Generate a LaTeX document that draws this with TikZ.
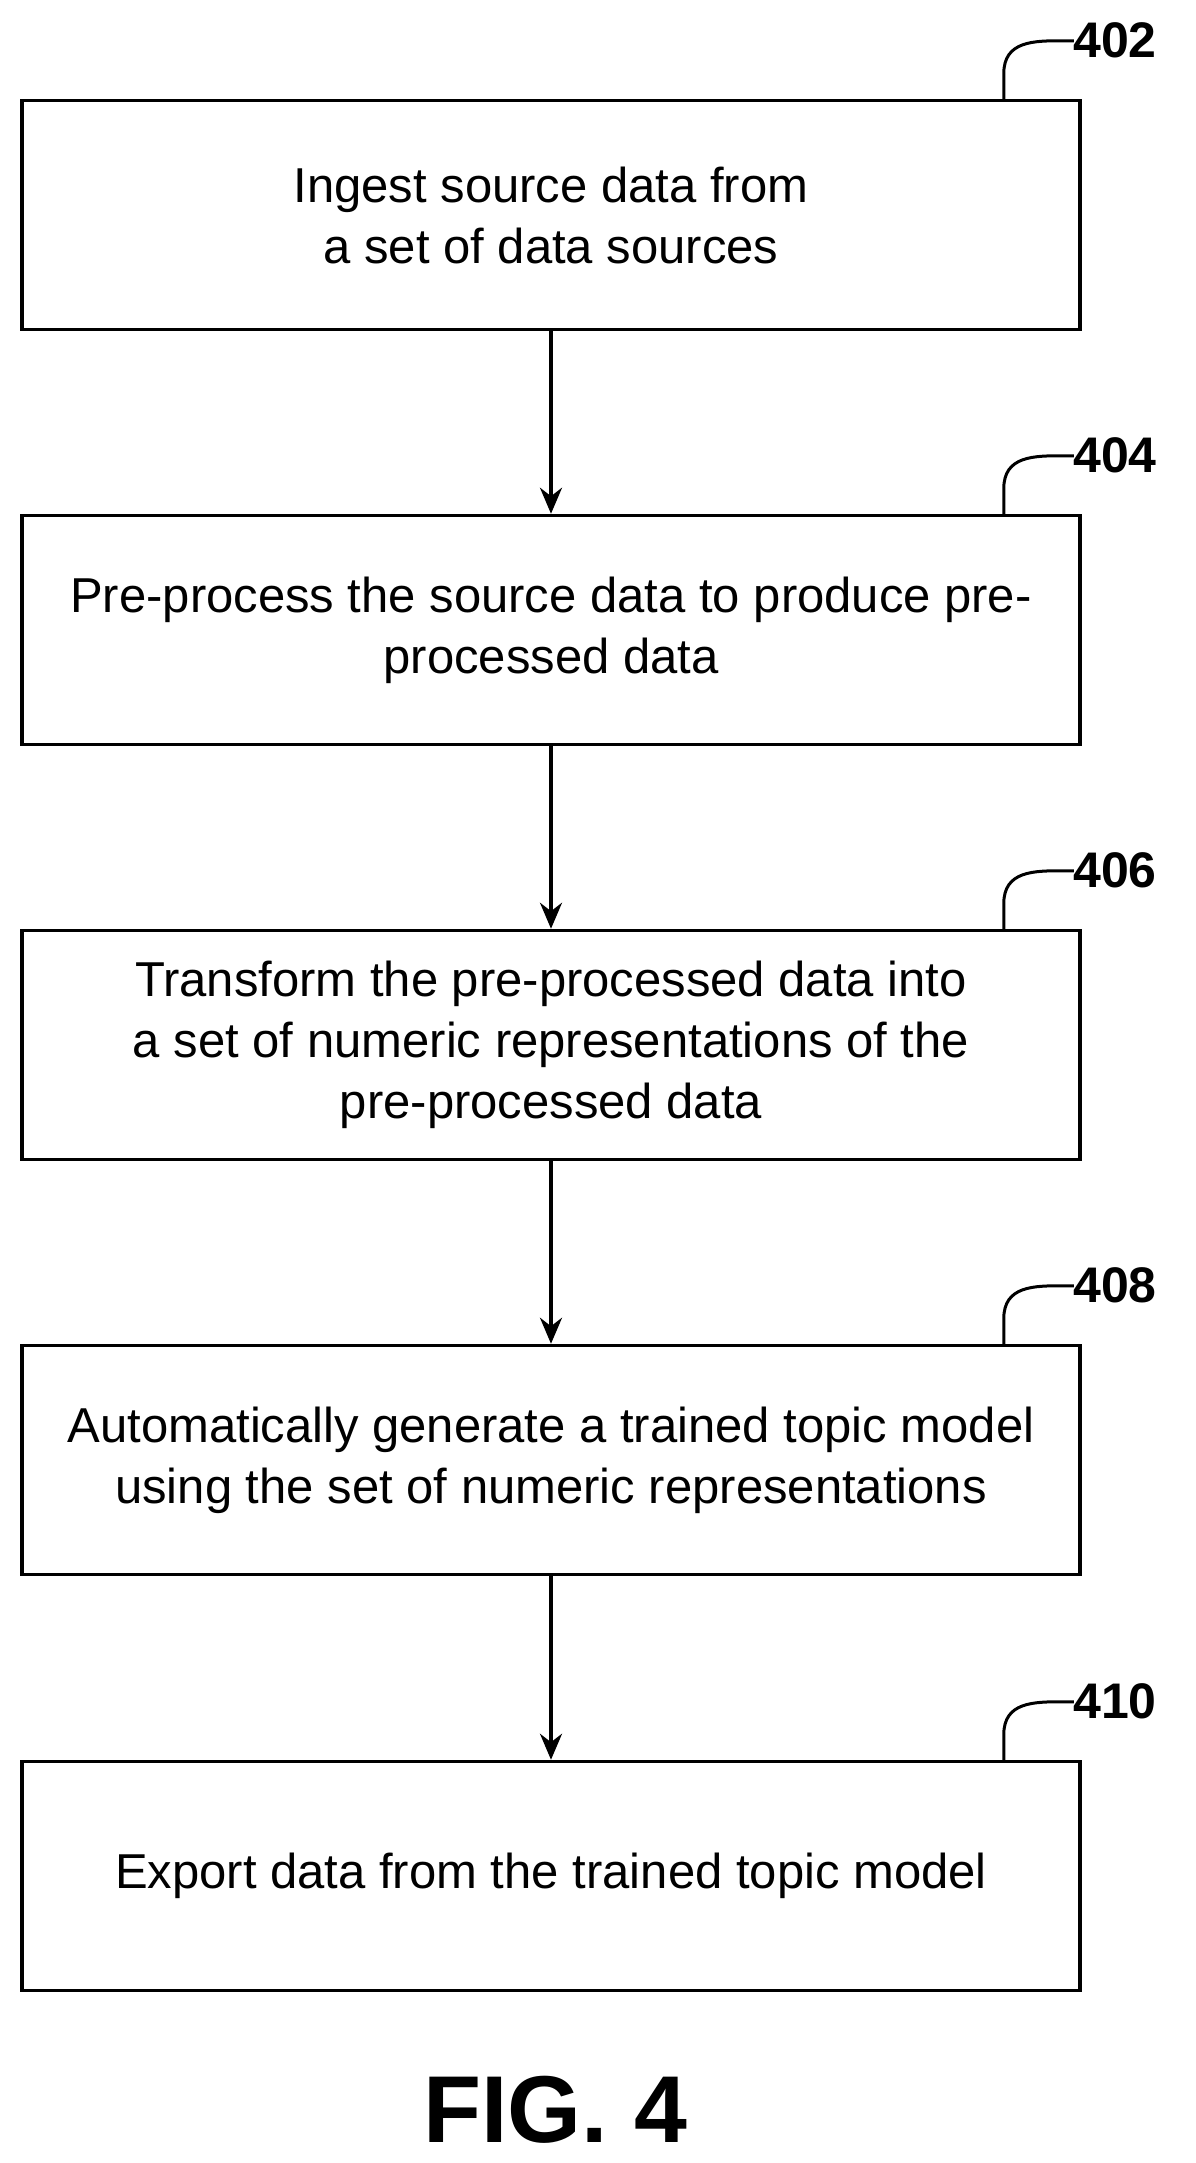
\documentclass[tikz,border=0pt]{standalone}
\usepackage{fontspec}
\setmainfont{Liberation Sans}
\usetikzlibrary{arrows.meta}
\begin{document}
\begin{tikzpicture}[x=1pt,y=-1pt,
  box/.style={draw,line width=3.5pt,minimum width=1058pt,minimum height=229pt,align=center,font=\fontsize{49}{61}\selectfont,inner sep=0pt},
  arr/.style={line width=3.5pt,-{Stealth[length=26pt,width=22pt]}},
  ref/.style={font=\bfseries\fontsize{50}{56}\selectfont,anchor=west},
  hook/.style={line width=3pt}]
\useasboundingbox (0,0) rectangle (1195,2163);
\node[box] (b1) at (551,215) {Ingest source data from\\a set of data sources};
\node[box] (b2) at (551,630) {Pre-process the source data to produce pre-\\processed data};
\node[box] (b3) at (551,1045) {Transform the pre-processed data into\\a set of numeric representations of the\\pre-processed data};
\node[box] (b4) at (551,1460) {Automatically generate a trained topic model\\using the set of numeric representations};
\node[box] (b5) at (551,1876) {Export data from the trained topic model};
\foreach \a/\b in {b1/b2,b2/b3,b3/b4,b4/b5} \draw[arr] (\a.south) -- (\b.north);
\foreach \b/\t in {b1/402,b2/404,b3/406,b4/408,b5/410}{
  \coordinate (h\t) at ([xshift=-78pt]\b.north east);
  \coordinate (e\t) at ([xshift=-18pt,yshift=58pt]\b.north east);
  \draw[hook] (h\t) -- ++(0,-25) .. controls +(0,-33) and +(-30,0) .. (e\t) -- ++(10,0);
  \node[ref] (l\t) at ([xshift=6pt]e\t) {\t};
}
\node[font=\bfseries\fontsize{95}{110}\selectfont] (fig) at (555,2110) {FIG. 4};
\end{tikzpicture}
\end{document}
